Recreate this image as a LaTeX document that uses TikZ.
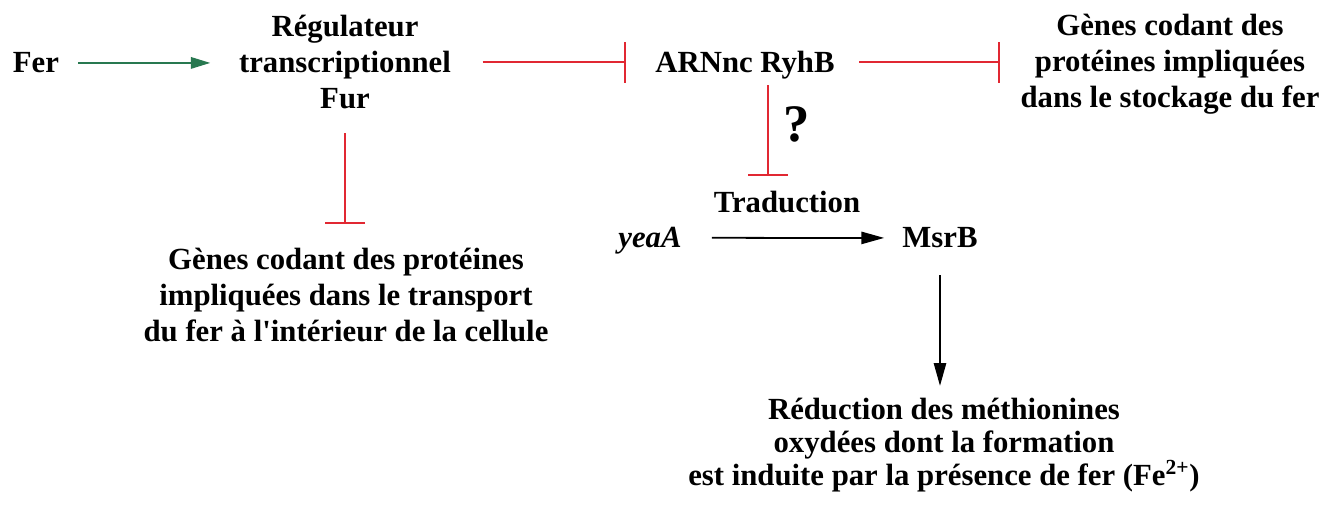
\documentclass[tikz,border=0pt]{standalone}
\usepackage{fontspec}
\setmainfont{Liberation Serif}
\usetikzlibrary{arrows.meta}
\definecolor{vertfer}{RGB}{40,120,80}
\definecolor{rougeinhib}{RGB}{225,40,50}
\begin{document}
\begin{tikzpicture}[x=0.02cm, y=-0.02cm,
		font=\fontsize{17.5}{20.5}\selectfont\bfseries,
		every node/.style={inner sep=0pt, align=center},
		mot/.style={anchor=base, text depth=0pt},
		active/.style={draw=vertfer, line width=1pt, -{Triangle[length=11pt,width=6.5pt]}},
		inhib/.style={draw=rougeinhib, line width=1.1pt, -{Bar[width=23pt]}},
		fleche/.style={draw=black, line width=1pt, -{Triangle[length=13pt,width=7pt]}}]
		\useasboundingbox (0,0) rectangle (1340,506);
		% ligne du haut
		\node[mot] (fer) at (36,73) {Fer};
		\node (fur) at (345,62.4) {Régulateur\\transcriptionnel\\Fur};
		\node[mot] (ryhb) at (745,73) {ARNnc RyhB};
		\node (stock) at (1170,63.8) {Gènes codant des\\protéines impliquées\\dans le stockage du fer};
		% sous Fur
		\node (transp) at (346,295.4) {Gènes codant des protéines\\impliquées dans le transport\\du fer à l\textquotesingle intérieur de la cellule};
		% traduction de yeaA
		\node[font=\fontsize{30}{32}\selectfont\bfseries] (q) at (797,124) {?};
		\node[mot] (trad) at (787,213) {Traduction};
		\node[mot] (yeaa) at (650,248) {\textit{yeaA}};
		\node[mot] (msrb) at (940,248) {MsrB};
		\node[font=\fontsize{17.5}{19}\selectfont\bfseries] (reduc) at (944,445) {Réduction des méthionines\\oxydées dont la formation\\est induite par la présence de fer (Fe\textsuperscript{2+})};
		\coordinate (qtop) at ([xshift=13pt]ryhb.south);
		% connecteurs
		\draw[active, shorten <=10.8pt, shorten >=16.2pt] (fer.east) -- (fer.east -| fur.west);
		\draw[inhib, shorten <=17.9pt, shorten >=16.7pt] (fur.east) -- (fur.east -| ryhb.west);
		\draw[inhib, shorten <=13.9pt, shorten >=11.3pt] (ryhb.east) -- (ryhb.east -| stock.west);
		\draw[inhib, shorten <=6.8pt, shorten >=8.9pt] (qtop) -- (qtop |- trad.north);
		\draw[inhib, shorten <=13.4pt, shorten >=13.8pt] (fur.south) -- (fur.south |- transp.north);
		\draw[fleche, shorten <=17pt, shorten >=10.2pt] (yeaa.east) -- (msrb.west);
		\draw[fleche, shorten <=15.3pt, shorten >=6.5pt] (msrb.south) -- (msrb.south |- reduc.north);
	\end{tikzpicture}
\end{document}
